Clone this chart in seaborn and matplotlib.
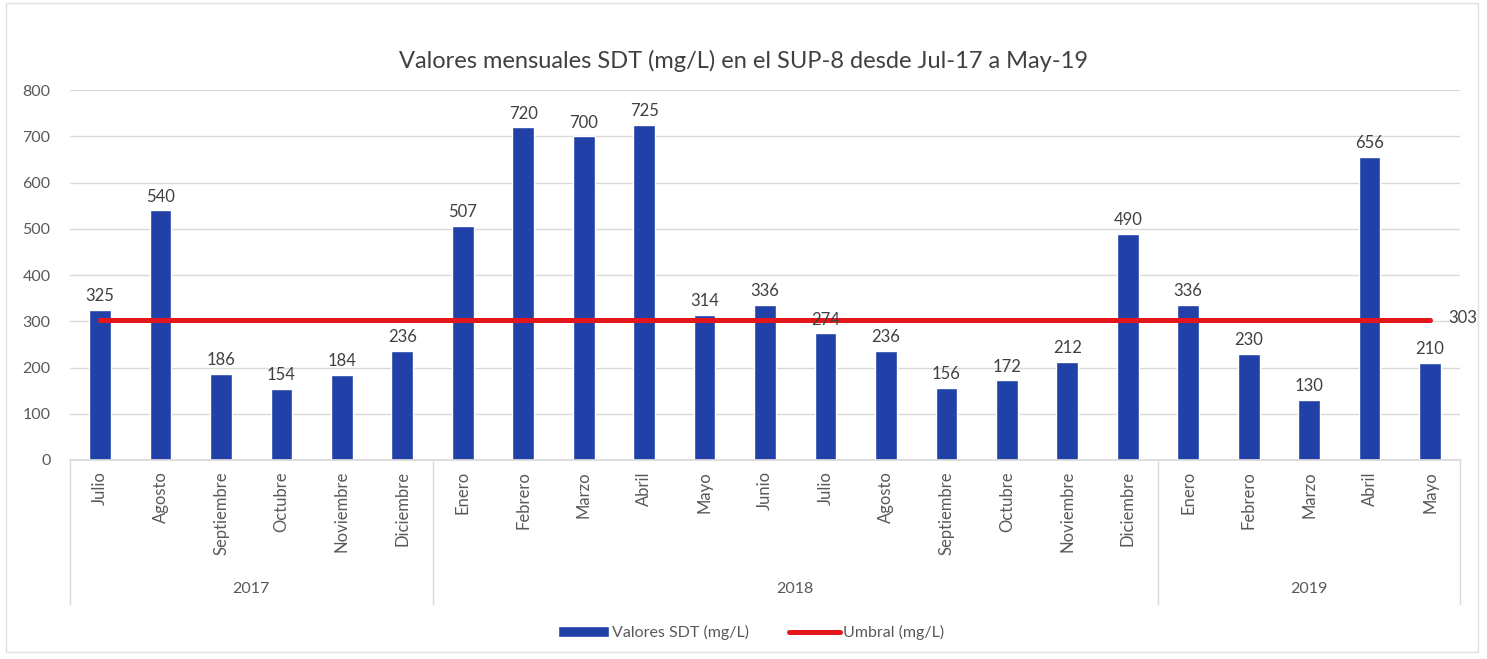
import matplotlib.pyplot as plt
import numpy as np
import pandas as pd
import seaborn as sns
from matplotlib.patches import Rectangle

# monthly values Jul-2017 .. May-2019
meses = ["Julio", "Agosto", "Septiembre", "Octubre", "Noviembre", "Diciembre",
         "Enero", "Febrero", "Marzo", "Abril", "Mayo", "Junio", "Julio", "Agosto",
         "Septiembre", "Octubre", "Noviembre", "Diciembre",
         "Enero", "Febrero", "Marzo", "Abril", "Mayo"]
anios = ["2017"] * 6 + ["2018"] * 12 + ["2019"] * 5
sdt = [325, 540, 186, 154, 184, 236, 507, 720, 700, 725, 314, 336, 274, 236,
       156, 172, 212, 490, 336, 230, 130, 656, 210]
umbral = [303] * len(sdt)

sns.set_theme(style="white")
plt.rcParams["font.family"] = ["Lato", "DejaVu Sans"]

df = pd.DataFrame({"clave": [f"{a}-{m}" for a, m in zip(anios, meses)],
                   "sdt": sdt, "umbral": umbral})
df["pos"] = np.arange(len(df))

fig = plt.figure(figsize=(14.87, 6.59), dpi=100)
ax = fig.add_axes([0.047, 0.302, 0.935, 0.561])

sns.barplot(data=df, x="clave", y="sdt", color="#2140A8", saturation=1,
            width=0.36, label="Valores SDT (mg/L)", ax=ax)
sns.lineplot(data=df, x="pos", y="umbral", color="#E3161B", linewidth=3.6,
             label="Umbral (mg/L)", ax=ax)

gris = "#595959"
for i, v in enumerate(sdt):
    ax.text(i, v + 12, str(v), ha="center", va="bottom", fontsize=12, color="#404040")
ax.text(len(sdt) - 1 + 0.3, umbral[-1] + 4, str(umbral[-1]), ha="left", va="center",
        fontsize=12, color="#404040")

ax.set_ylim(0, 800)
ax.set_xlim(-0.5, len(sdt) - 0.5)
ax.set_yticks(range(0, 801, 100))
ax.yaxis.grid(True, color="#D9D9D9", linewidth=1)
ax.set_axisbelow(True)
for s in ["top", "right", "left"]:
    ax.spines[s].set_visible(False)
ax.spines["bottom"].set_color("#D9D9D9")
ax.set_xticks(df["pos"])
ax.set_xticklabels(meses, rotation=90, fontsize=12, color=gris)
ax.tick_params(axis="y", labelsize=11.5, labelcolor=gris, length=0, pad=14)
ax.tick_params(axis="x", length=0, pad=8)
ax.set_xlabel("")
ax.set_ylabel("")
ax.legend().remove()

# year groups under the month labels
limites = [-0.5, 5.5, 17.5, len(sdt) - 0.5]
trans = ax.get_xaxis_transform()
for b in limites:
    ax.plot([b, b], [0, -0.39], transform=trans, color="#D9D9D9", lw=1, clip_on=False)
for a in ["2017", "2018", "2019"]:
    idx = [i for i, y in enumerate(anios) if y == a]
    ax.text((idx[0] + idx[-1]) / 2, -0.35, a, transform=trans, ha="center",
            va="center", fontsize=11.5, color=gris)

fig.suptitle("Valores mensuales SDT (mg/L) en el SUP-8 desde Jul-17 a May-19",
             y=0.925, fontsize=17, color="#404040")

h, l = ax.get_legend_handles_labels()
orden = [l.index("Valores SDT (mg/L)"), l.index("Umbral (mg/L)")]
fig.legend([h[i] for i in orden], [l[i] for i in orden], loc="center",
           bbox_to_anchor=(0.505, 0.04), ncol=2, frameon=False,
           fontsize=11.5, labelcolor=gris, handlelength=3.2, columnspacing=2.5,
           handletextpad=0.2)

fig.patches.append(Rectangle((0.004, 0.01), 0.99, 0.985, transform=fig.transFigure,
                             fill=False, edgecolor="#E0E0E0", lw=1))

fig.savefig("out.png", dpi=100)
